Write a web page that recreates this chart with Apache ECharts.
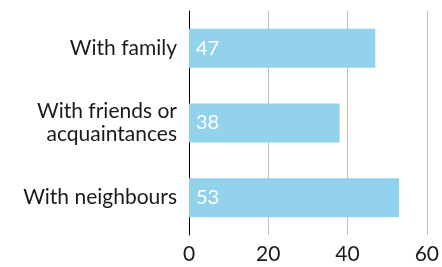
<!DOCTYPE html>
<html><head><meta charset="utf-8">
<script src="https://cdn.jsdelivr.net/npm/echarts@6/dist/echarts.min.js"></script>
<style>html,body{margin:0;padding:0;background:#fff}#c{width:442px;height:267px}</style>
</head><body><div id="c"></div>
<script>
const categories = ['With family', 'With friends or\nacquaintances', 'With neighbours'];
const values = [47, 38, 53];
const tickValues = [0, 20, 40, 60];

const chart = echarts.init(document.getElementById('c'), null, {renderer: 'canvas'});
const FONT = 'Lato';
chart.setOption({
  animation: false,
  grid: {left: 189, right: 14.5, top: 11, bottom: 32, containLabel: false},
  xAxis: {
    type: 'value', min: tickValues[0], max: tickValues[tickValues.length - 1], interval: 20,
    axisLine: {show: false}, axisTick: {show: false},
    splitLine: {show: true, lineStyle: {color: '#bfbfbf', width: 1}},
    axisLabel: {color: '#1a1a1a', fontFamily: FONT, fontSize: 21, margin: 9}
  },
  yAxis: {
    type: 'category', data: categories, inverse: true,
    axisLine: {show: true, lineStyle: {color: '#000', width: 1}},
    axisTick: {show: false},
    axisLabel: {color: '#1a1a1a', fontFamily: FONT, fontSize: 21, margin: 12, lineHeight: 23, align: 'right'}
  },
  series: [{
    type: 'bar', data: values, barWidth: 39,
    itemStyle: {color: '#92d2ed'},
    label: {show: true, position: 'insideLeft', distance: 7, color: '#fff', fontFamily: FONT, fontSize: 20}
  }]
});
</script></body></html>
